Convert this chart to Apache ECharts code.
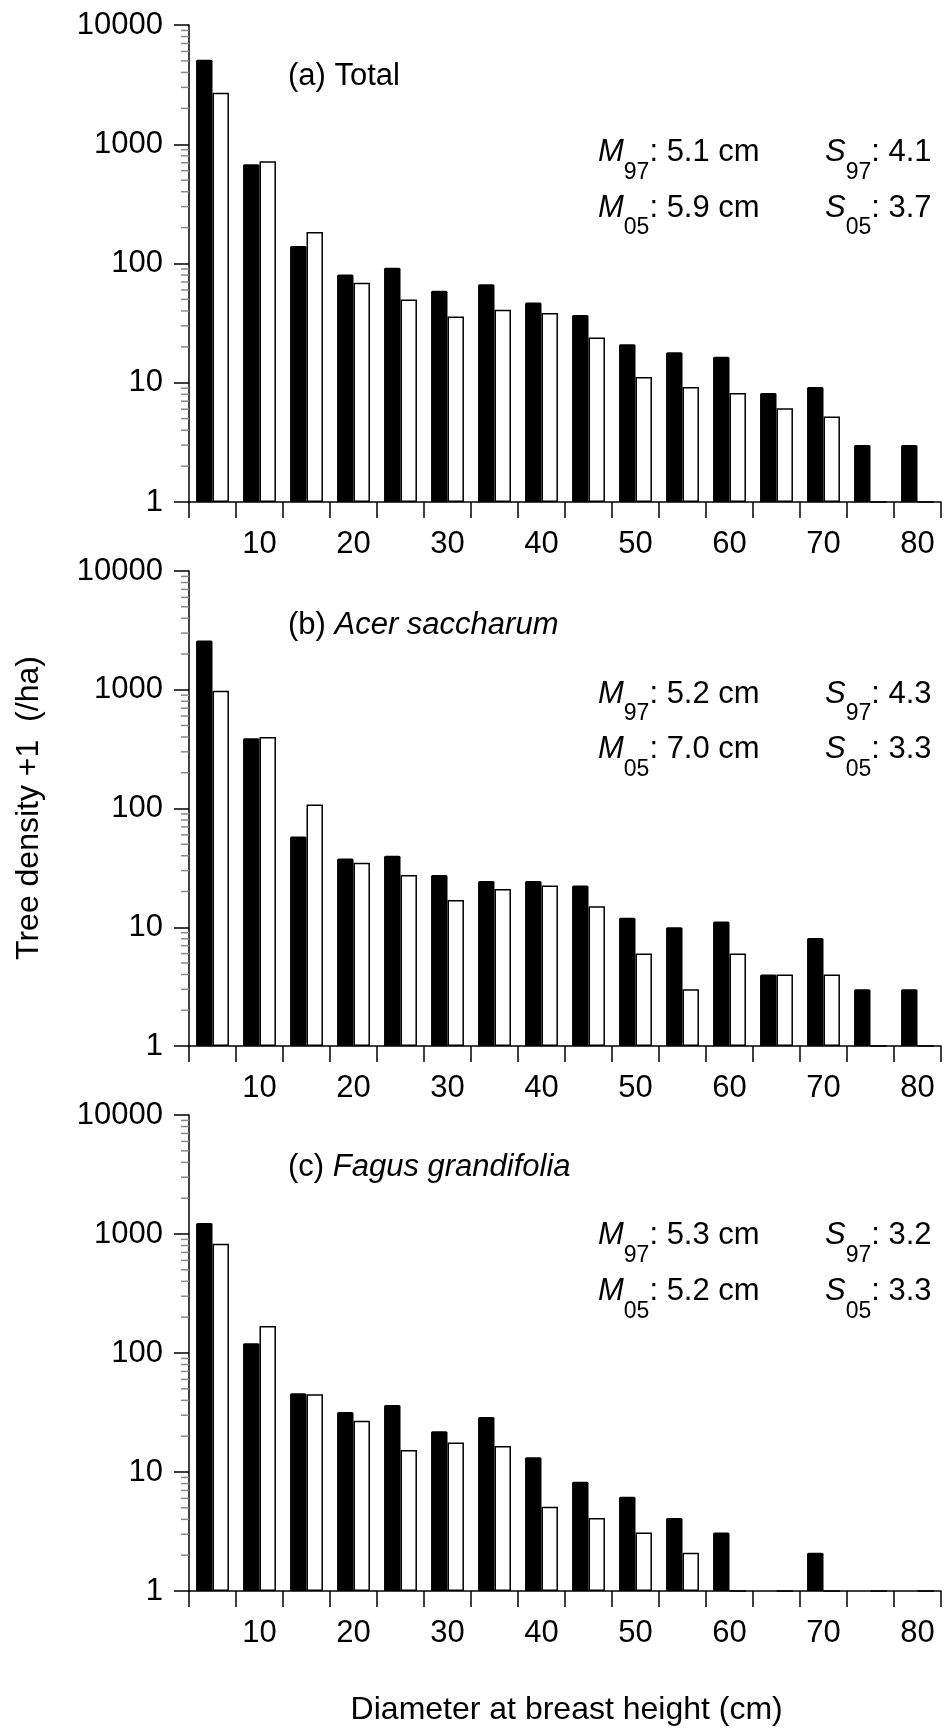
<!DOCTYPE html>
<html>
<head>
<meta charset="utf-8">
<script src="https://cdn.jsdelivr.net/npm/echarts@6.0.0/dist/echarts.min.js"></script>
<style>
  html, body { margin: 0; padding: 0; background: #fff; }
  #chart { width: 945px; height: 1730px; }
</style>
</head>
<body>
<div id="chart"></div>
<script>
// DBH classes (5 cm wide, labelled by upper bound)
const diameterBins = ['5', '10', '15', '20', '25', '30', '35', '40', '45', '50', '55', '60', '65', '70', '75', '80']

// tree density + 1 (/ha), black = 1997, white = 2005
const total97 = [5100, 680, 140, 81, 92, 59, 67, 47, 37, 21, 18, 16.5, 8.2, 9.2, 3, 3]
const total05 = [2700, 720, 184, 69, 50, 36, 41, 38.5, 24, 11.2, 9.2, 8.2, 6.1, 5.2, 1, 1]
const acer97 = [2600, 390, 58, 38, 40, 27.5, 24.5, 24.5, 22.5, 12, 10, 11.2, 4, 8.1, 3, 3]
const acer05 = [980, 400, 108, 35, 27.5, 17, 21, 22.5, 15, 6, 3, 6, 4, 4, 1, 1]
const fagus97 = [1240, 121, 46, 32, 36.5, 22, 29, 13.3, 8.3, 6.2, 4.1, 3.1, 1, 2.1, 1, 1]
const fagus05 = [830, 169, 45, 27, 15.3, 17.7, 16.5, 5.1, 4.1, 3.1, 2.1, 1, 1, 1, 1, 1]

// panel labels and summary statistics
const panelPrefix = ['(a) ', '(b) ', '(c) ']
const panelNames = ['Total', 'Acer saccharum', 'Fagus grandifolia']
const panelItalic = [false, true, true]
const meanDbh97 = ['5.1 cm', '5.2 cm', '5.3 cm']
const meanDbh05 = ['5.9 cm', '7.0 cm', '5.2 cm']
const skew97 = ['4.1', '4.3', '3.2']
const skew05 = ['3.7', '3.3', '3.3']

// log-axis minor ticks (2..9 in every decade)
const minorMantissa = [2, 3, 4, 5, 6, 7, 8, 9]
const minorDecades = [1, 10, 100, 1000]

const FONT = 'Liberation Sans, Arial, sans-serif'
const FS = 31

const panels = [
  { s97: total97, s05: total05, top: 25, height: 477, titleBase: 89, rowBase: [165, 220.7] },
  { s97: acer97, s05: acer05, top: 571, height: 475, titleBase: 638, rowBase: [706.7, 762.3] },
  { s97: fagus97, s05: fagus05, top: 1115, height: 476, titleBase: 1180, rowBase: [1248.3, 1304.3] }
]

const minorTicks = []
minorDecades.forEach(d => minorMantissa.forEach(m => minorTicks.push([0, m * d])))

const chart = echarts.init(document.getElementById('chart'))

const rich = {
  n: { fontFamily: FONT, fontSize: FS, lineHeight: 36, verticalAlign: 'top', fill: '#000' },
  i: { fontFamily: FONT, fontSize: FS, lineHeight: 36, verticalAlign: 'top', fontStyle: 'italic', fill: '#000' },
  s: { fontFamily: FONT, fontSize: 23, lineHeight: 24, verticalAlign: 'top', padding: [24, 0, 0, 0], fill: '#000' }
}
// baseline of a 31px token sits ~28px below the line top
const BASE_OFF = 28.2

const grid = []
const xAxis = []
const yAxis = []
const series = []
const graphics = []

panels.forEach((p, k) => {
  grid.push({ left: 189, width: 752, top: p.top, height: p.height })

  xAxis.push({
    type: 'category',
    gridIndex: k,
    data: diameterBins,
    boundaryGap: true,
    axisLine: { onZero: false, lineStyle: { color: '#000', width: 1.5 } },
    axisTick: { show: true, interval: 0, length: 16, alignWithLabel: false, lineStyle: { color: '#000', width: 1.5 } },
    axisLabel: {
      interval: (idx) => idx % 2 === 1,
      margin: 27,
      color: '#000',
      fontFamily: FONT,
      fontSize: FS
    },
    splitLine: { show: false }
  })

  yAxis.push({
    type: 'log',
    gridIndex: k,
    logBase: 10,
    min: 1,
    max: 10000,
    axisLine: { show: true, lineStyle: { color: '#000', width: 1.5 } },
    axisTick: { show: true, length: 15, lineStyle: { color: '#000', width: 1.5 } },
    axisLabel: {
      margin: 26,
      color: '#000',
      fontFamily: FONT,
      fontSize: FS,
      formatter: (v) => String(Math.round(v))
    },
    splitLine: { show: false }
  })

  series.push({
    name: '1997',
    type: 'bar',
    xAxisIndex: k,
    yAxisIndex: k,
    data: p.s97,
    barGap: '0%',
    barCategoryGap: '30%',
    itemStyle: { color: '#000', borderRadius: [1.5, 1.5, 0, 0] }
  })
  series.push({
    name: '2005',
    type: 'bar',
    xAxisIndex: k,
    yAxisIndex: k,
    data: p.s05,
    barGap: '0%',
    barCategoryGap: '30%',
    itemStyle: { color: '#fff', borderColor: '#000', borderWidth: 1.5 }
  })
  // gray minor ticks on the log axis
  series.push({
    type: 'custom',
    xAxisIndex: k,
    yAxisIndex: k,
    data: minorTicks,
    silent: true,
    clip: false,
    encode: { x: 0, y: 1 },
    renderItem: (params, api) => {
      const y = api.coord([0, api.value(1)])[1]
      const x0 = params.coordSys.x
      return {
        type: 'line',
        shape: { x1: x0 - 8, y1: y, x2: x0, y2: y },
        style: { stroke: '#888', lineWidth: 1.5 }
      }
    }
  })

  // panel title
  const nameTag = panelItalic[k] ? 'i' : 'n'
  graphics.push({
    type: 'text',
    x: 288,
    y: p.titleBase - BASE_OFF,
    style: {
      text: `{n|${panelPrefix[k]}}{${nameTag}|${panelNames[k]}}`,
      rich: rich,
      verticalAlign: 'top'
    }
  })

  // summary statistics
  const rows = [
    [['M', '97', meanDbh97[k]], ['S', '97', skew97[k]]],
    [['M', '05', meanDbh05[k]], ['S', '05', skew05[k]]]
  ]
  rows.forEach((row, r) => {
    row.forEach((cell, c) => {
      graphics.push({
        type: 'text',
        x: c === 0 ? 598 : 825,
        y: p.rowBase[r] - BASE_OFF,
        style: {
          text: `{i|${cell[0]}}{s|${cell[1]}}{n|: ${cell[2]}}`,
          rich: rich,
          verticalAlign: 'top'
        }
      })
    })
  })
})

// axis titles
graphics.push({
  type: 'text',
  x: 29,
  y: 808,
  rotation: Math.PI / 2,
  style: {
    text: 'Tree density +1  (/ha)',
    fontFamily: FONT,
    fontSize: 32,
    fill: '#000',
    align: 'center',
    verticalAlign: 'middle'
  }
})
graphics.push({
  type: 'text',
  x: 566.7,
  y: 1710,
  style: {
    text: 'Diameter at breast height (cm)',
    fontFamily: FONT,
    fontSize: 32,
    fill: '#000',
    align: 'center',
    verticalAlign: 'middle'
  }
})

chart.setOption({
  animation: false,
  backgroundColor: '#fff',
  grid: grid,
  xAxis: xAxis,
  yAxis: yAxis,
  series: series,
  graphic: graphics
})
</script>
</body>
</html>
